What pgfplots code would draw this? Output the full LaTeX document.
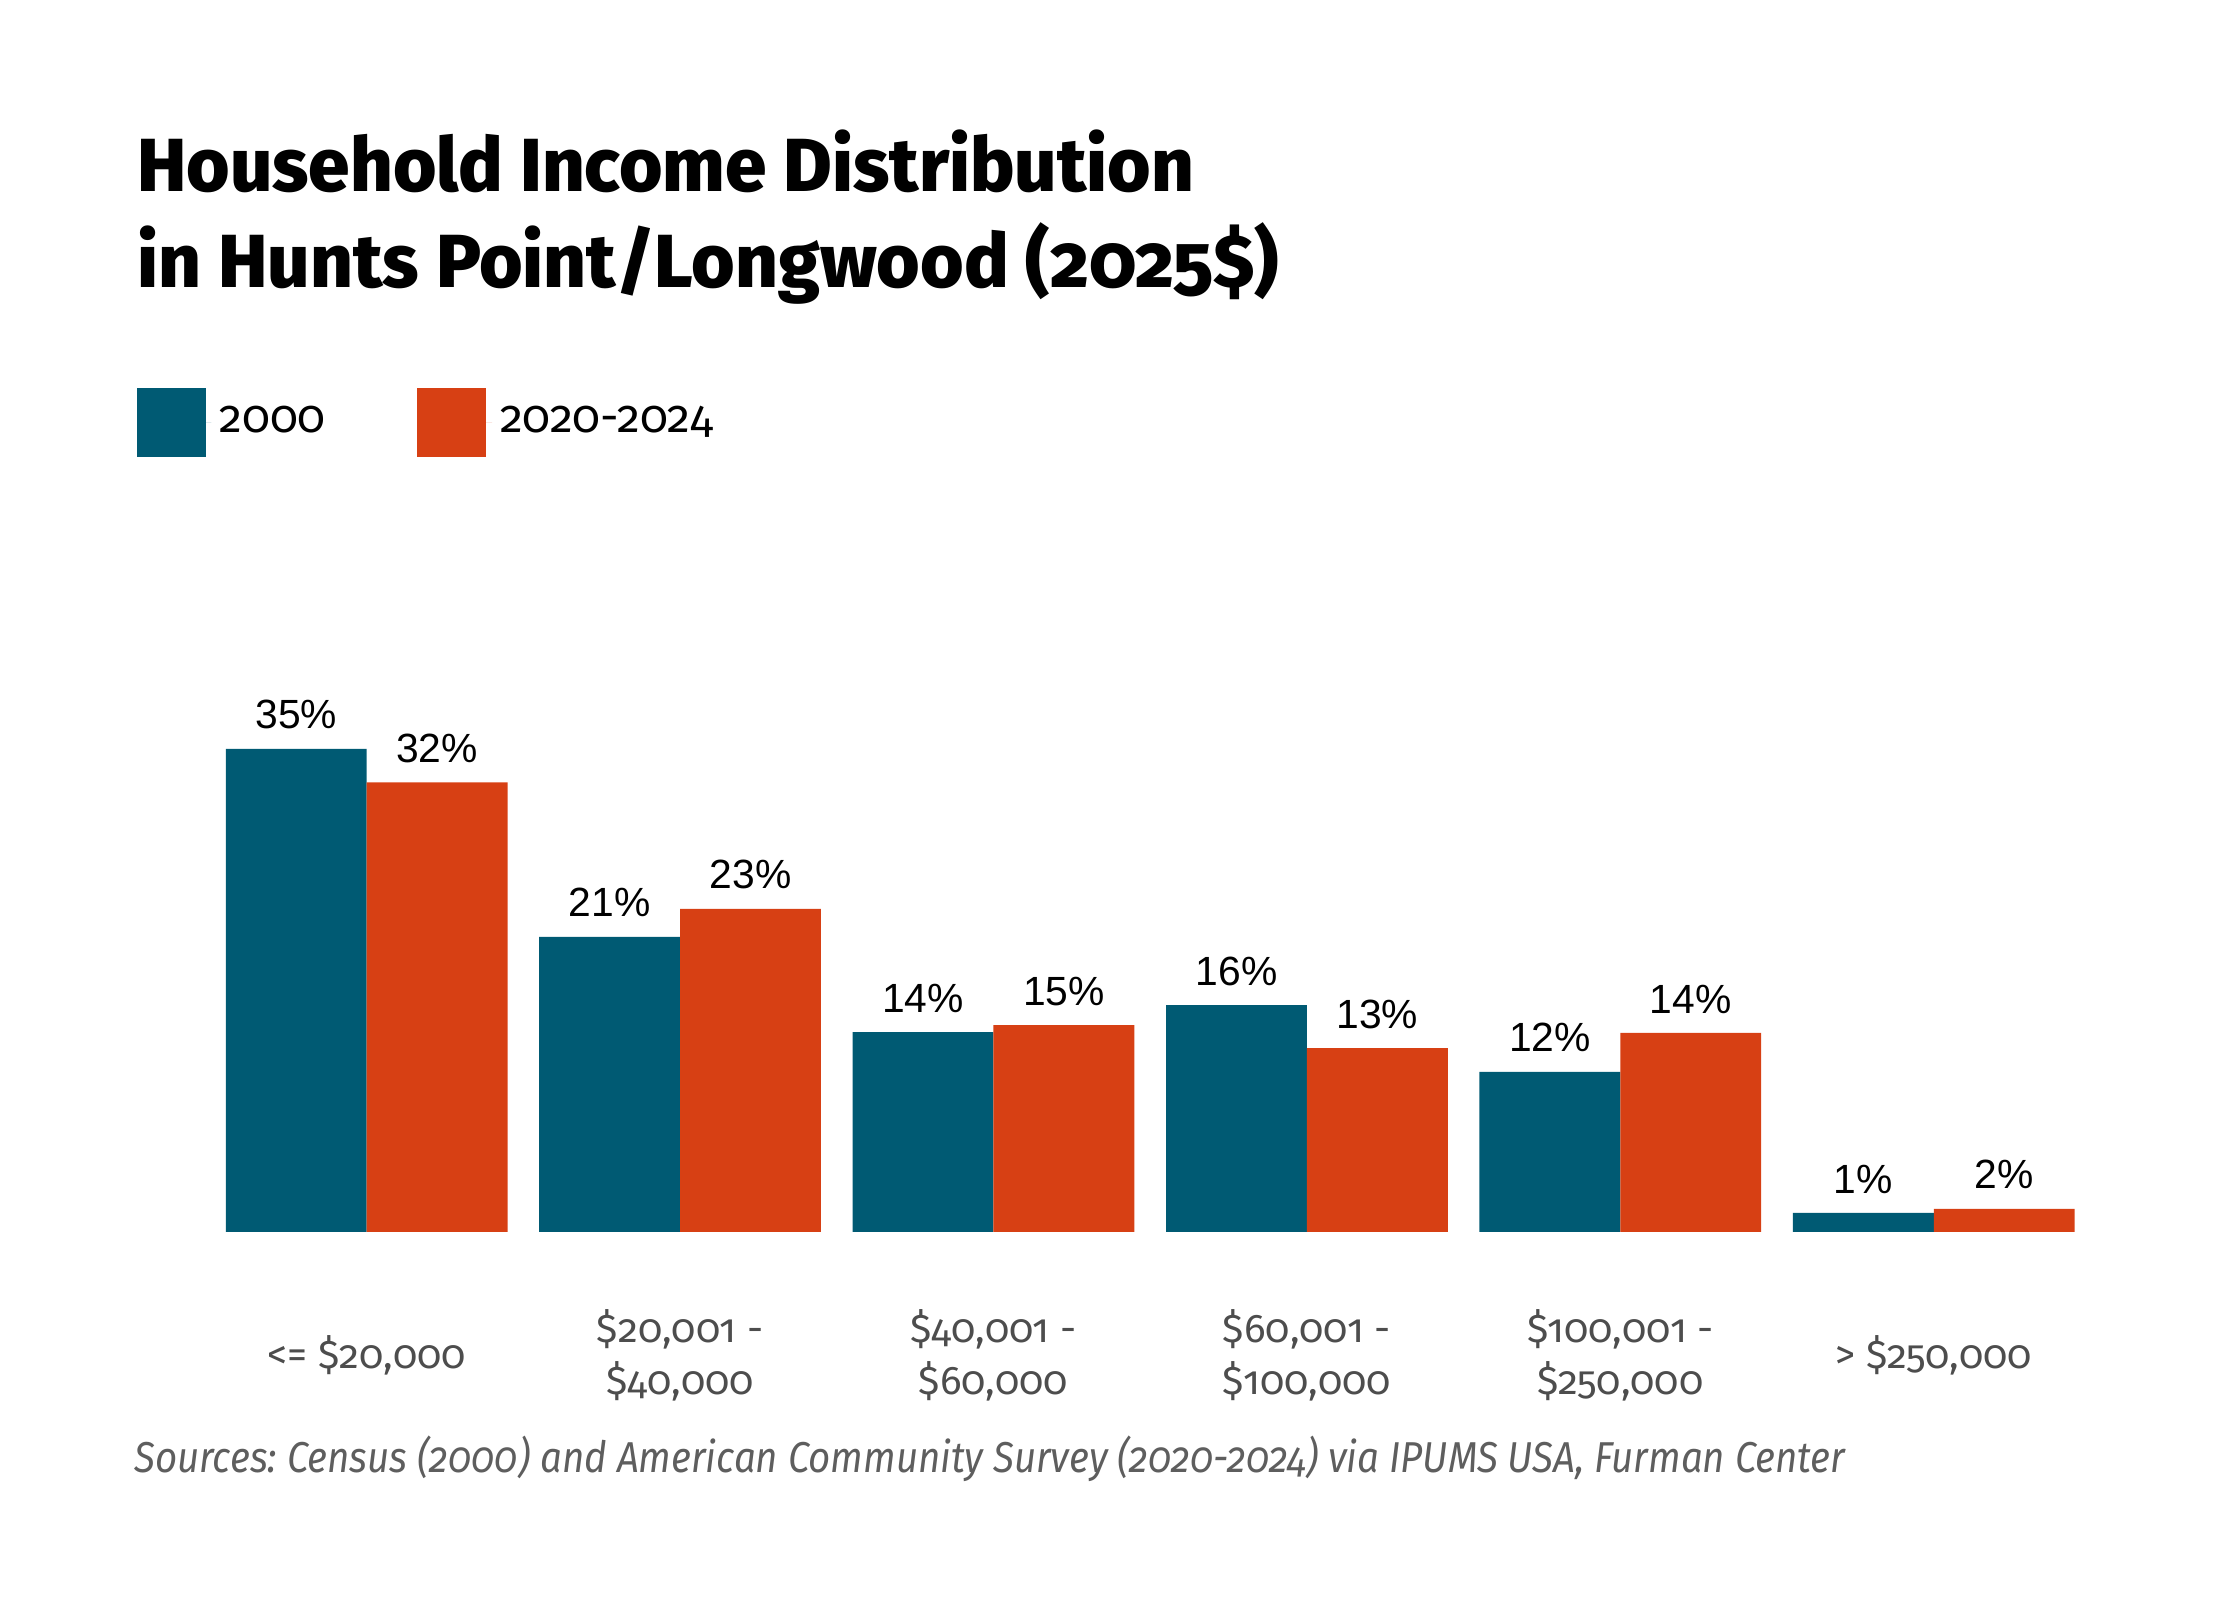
\documentclass[border=0pt]{standalone}
\usepackage{fontspec}
\setmainfont{Fira Sans}[Numbers=OldStyle]
\newfontfamily\arialf{Liberation Sans}
\newfontfamily\titlefont{Fira Sans ExtraBold}[Numbers=OldStyle]
\usepackage{pgfplots}
\pgfplotsset{compat=1.18}
\definecolor{cblue}{HTML}{005A73}
\definecolor{corange}{HTML}{D74014}
\definecolor{lblgray}{HTML}{4D4D4D}
\definecolor{srcgray}{HTML}{5E5E5E}
\frenchspacing
\begin{document}
\begin{tikzpicture}
\path[use as bounding box] (0,0) rectangle (560pt,400pt);
\begin{axis}[
  at={(52.48pt,92.02pt)}, anchor=south west,
  scale only axis, width=470.15pt, height=139.22pt,
  xmin=-0.5, xmax=5.5, ymin=0, ymax=40,
  ybar=0pt, bar width=35.22pt,
  axis line style={draw=none}, major tick length=0pt,
  ytick=\empty,
  xtick={0,1,2,3,4,5},
  xticklabels={{<= \$20,000},{\$20,001 -\\ \$40,000},{\$40,001 -\\ \$60,000},{\$60,001 -\\ \$100,000},{\$100,001 -\\ \$250,000},{> \$250,000}},
  xticklabel style={anchor=center, yshift=-30.9pt, align=center, font=\fontsize{10}{12.9}\selectfont, text=lblgray},
  point meta=explicit symbolic,
  nodes near coords={\pgfplotspointmeta\%},
  every node near coord/.append style={font=\arialf\fontsize{10.2}{12}\selectfont, text=black, anchor=south, inner sep=0pt, yshift=4.7pt},
  legend style={draw=none, fill=none, at={(-0.0458,1.4536)}, anchor=west, legend columns=2, font=\fontsize{11.5}{13}\selectfont, /tikz/every even column/.append style={column sep=20.85pt}},
  legend cell align=left,
  clip=false,
]
\addplot[fill=cblue, draw=none, legend image code/.code={\fill[cblue] (0pt,-8.62pt) rectangle (17.25pt,8.62pt); \path (17.25pt,0pt) -- (18.7pt,0pt);}] coordinates {(0,34.7)[35] (1,21.2)[21] (2,14.35)[14] (3,16.3)[16] (4,11.5)[12] (5,1.37)[1]};
\addplot[fill=corange, draw=none, legend image code/.code={\fill[corange] (0pt,-8.62pt) rectangle (17.25pt,8.62pt); \path (17.25pt,0pt) -- (18.7pt,0pt);}] coordinates {(0,32.3)[32] (1,23.2)[23] (2,14.86)[15] (3,13.2)[13] (4,14.3)[14] (5,1.66)[2]};
\legend{2000, 2020-2024}
\end{axis}
\node[anchor=base west, inner sep=0pt, font=\titlefont\fontsize{18.8}{22}\selectfont] at (34.1pt,352.2pt) {\resizebox{264.2pt}{\height}{Household Income Distribution}};
\node[anchor=base west, inner sep=0pt, font=\titlefont\fontsize{18.8}{22}\selectfont] at (34.1pt,328.2pt) {\resizebox{285.4pt}{\height}{in Hunts Point/Longwood (2025\$)}};
\node[anchor=base west, inner sep=0pt, font=\itshape\fontsize{10.8}{13}\selectfont, text=srcgray] at (33.4pt,32pt) {\resizebox{427.7pt}{\height}{Sources: Census (2000) and American Community Survey (2020-2024) via IPUMS USA, Furman Center}};
\end{tikzpicture}
\end{document}
